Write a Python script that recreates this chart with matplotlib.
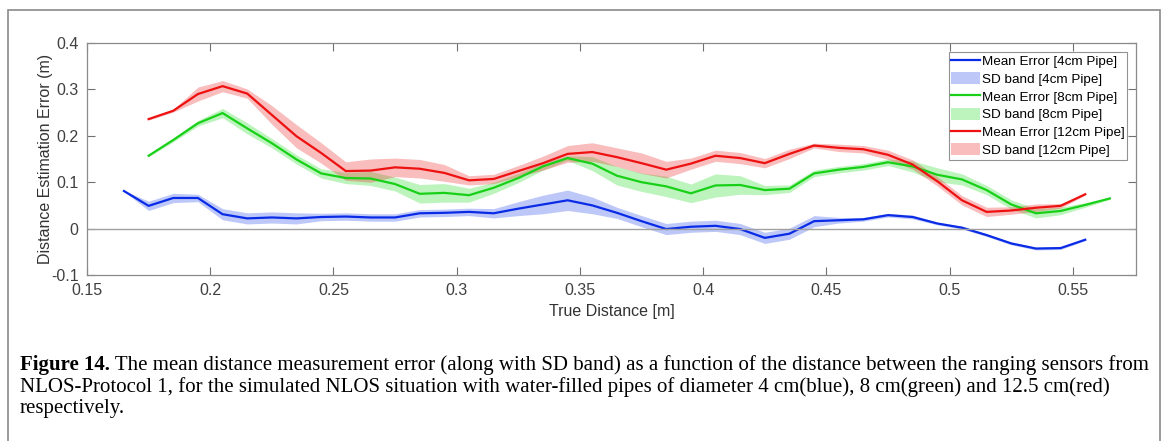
import numpy as np
import matplotlib
matplotlib.use("Agg")
import matplotlib.pyplot as plt
from matplotlib.patches import Rectangle, Patch
from matplotlib.lines import Line2D

plt.rcParams["font.family"] = ["Liberation Sans", "DejaVu Sans"]

# distances (m) for each series
x_4cm = [0.165, 0.175, 0.185, 0.195, 0.205, 0.215, 0.225, 0.235, 0.245, 0.255,
         0.265, 0.275, 0.285, 0.295, 0.305, 0.315, 0.325, 0.335, 0.345, 0.355,
         0.365, 0.375, 0.385, 0.395, 0.405, 0.415, 0.425, 0.435, 0.445, 0.455,
         0.465, 0.475, 0.485, 0.495, 0.505, 0.515, 0.525, 0.535, 0.545, 0.555]
mean_4cm = [0.081, 0.049, 0.066, 0.066, 0.031, 0.022, 0.024, 0.022, 0.025, 0.026,
            0.024, 0.024, 0.033, 0.034, 0.036, 0.033, 0.043, 0.052, 0.061, 0.050,
            0.034, 0.016, -0.001, 0.004, 0.006, -0.001, -0.020, -0.011, 0.016, 0.018,
            0.020, 0.029, 0.025, 0.011, 0.002, -0.014, -0.032, -0.043, -0.042, -0.024]
sd_4cm = [0.001, 0.010, 0.010, 0.008, 0.012, 0.012, 0.012, 0.012, 0.008, 0.008,
          0.008, 0.008, 0.008, 0.008, 0.008, 0.010, 0.015, 0.020, 0.022, 0.018,
          0.012, 0.012, 0.012, 0.012, 0.012, 0.012, 0.012, 0.012, 0.012, 0.006,
          0.004, 0.004, 0.004, 0.003, 0.003, 0.003, 0.003, 0.003, 0.003, 0.002]

x_8cm = [0.175, 0.185, 0.195, 0.205, 0.215, 0.225, 0.235, 0.245, 0.255, 0.265,
         0.275, 0.285, 0.295, 0.305, 0.315, 0.325, 0.335, 0.345, 0.355, 0.365,
         0.375, 0.385, 0.395, 0.405, 0.415, 0.425, 0.435, 0.445, 0.455, 0.465,
         0.475, 0.485, 0.495, 0.505, 0.515, 0.525, 0.535, 0.545, 0.555, 0.565]
mean_8cm = [0.157, 0.191, 0.227, 0.249, 0.216, 0.184, 0.149, 0.119, 0.109, 0.108,
            0.096, 0.075, 0.077, 0.072, 0.088, 0.109, 0.134, 0.152, 0.140, 0.114,
            0.100, 0.091, 0.076, 0.093, 0.094, 0.083, 0.086, 0.119, 0.127, 0.133,
            0.143, 0.134, 0.116, 0.106, 0.083, 0.052, 0.033, 0.038, 0.051, 0.065]
sd_8cm = [0.002, 0.004, 0.006, 0.010, 0.012, 0.010, 0.010, 0.010, 0.012, 0.015,
          0.015, 0.020, 0.020, 0.015, 0.012, 0.010, 0.008, 0.005, 0.015, 0.020,
          0.020, 0.022, 0.020, 0.025, 0.020, 0.010, 0.008, 0.007, 0.007, 0.007,
          0.007, 0.012, 0.015, 0.012, 0.010, 0.010, 0.010, 0.008, 0.005, 0.002]

x_12cm = [0.175, 0.185, 0.195, 0.205, 0.215, 0.225, 0.235, 0.245, 0.255, 0.265,
          0.275, 0.285, 0.295, 0.305, 0.315, 0.325, 0.335, 0.345, 0.355, 0.365,
          0.375, 0.385, 0.395, 0.405, 0.415, 0.425, 0.435, 0.445, 0.455, 0.465,
          0.475, 0.485, 0.495, 0.505, 0.515, 0.525, 0.535, 0.545, 0.555]
mean_12cm = [0.236, 0.254, 0.290, 0.307, 0.291, 0.245, 0.199, 0.163, 0.124, 0.125,
             0.132, 0.129, 0.120, 0.104, 0.107, 0.124, 0.141, 0.161, 0.165, 0.154,
             0.141, 0.127, 0.140, 0.157, 0.152, 0.141, 0.161, 0.179, 0.174, 0.171,
             0.159, 0.138, 0.102, 0.061, 0.036, 0.039, 0.045, 0.049, 0.074]
sd_12cm = [0.002, 0.003, 0.015, 0.012, 0.010, 0.020, 0.025, 0.022, 0.020, 0.025,
           0.020, 0.020, 0.018, 0.010, 0.010, 0.012, 0.015, 0.018, 0.020, 0.020,
           0.022, 0.018, 0.012, 0.012, 0.012, 0.010, 0.010, 0.005, 0.008, 0.008,
           0.010, 0.010, 0.010, 0.010, 0.010, 0.008, 0.008, 0.005, 0.002]

labels = ["4cm Pipe", "8cm Pipe", "12cm Pipe"]
line_colors = ["#0a2be6", "#18d018", "#ee1111"]
band_colors = ["#3355ee", "#33dd33", "#ee3333"]

caption_bold = "Figure 14."
caption_rest = (" The mean distance measurement error (along with SD band) as a function of the distance between the ranging sensors from",
                "NLOS-Protocol 1, for the simulated NLOS situation with water-filled pipes of diameter 4 cm(blue), 8 cm(green) and 12.5 cm(red)",
                "respectively.")

fig = plt.figure(figsize=(11.68, 4.41), dpi=100)
fig.patches.append(Rectangle((8/1168, -0.02), 1152/1168, 1 - 10/441 + 0.02, transform=fig.transFigure,
                             fill=False, edgecolor="#8a8a8a", linewidth=1.2))
ax = fig.add_axes([87/1168, 1 - 275/441, (1136 - 87)/1168, (275 - 43)/441])

series = [(x_4cm, mean_4cm, sd_4cm), (x_8cm, mean_8cm, sd_8cm), (x_12cm, mean_12cm, sd_12cm)]
handles = []
for (xs, m, s), lab, lc, bc in zip(series, labels, line_colors, band_colors):
    xs = np.array(xs); m = np.array(m); s = np.array(s)
    ax.fill_between(xs, m - s, m + s, color=bc, alpha=0.32, linewidth=0)
    ax.plot(xs, m, color=lc, linewidth=1.6)
    handles.append(Line2D([0], [0], color=lc, linewidth=1.6))
    handles.append(Patch(facecolor=bc, alpha=0.32, edgecolor="none"))
leg_labels = []
for lab in labels:
    leg_labels += [f"Mean Error [{lab}]", f"SD band [{lab}]"]

ax.axhline(0, color="#a0a0a0", linewidth=1.0)
ax.set_xlim(0.15, 0.5756)
ax.set_ylim(-0.1, 0.4)
ax.set_xticks([0.15, 0.2, 0.25, 0.3, 0.35, 0.4, 0.45, 0.5, 0.55])
ax.set_xticklabels(["0.15", "0.2", "0.25", "0.3", "0.35", "0.4", "0.45", "0.5", "0.55"])
ax.set_yticks([-0.1, 0, 0.1, 0.2, 0.3, 0.4])
ax.set_yticklabels(["-0.1", "0", "0.1", "0.2", "0.3", "0.4"])
ax.tick_params(direction="in", top=True, right=True, length=6, width=0.8,
               color="#707070", labelcolor="#404040", labelsize=11.5, pad=6)
for sp in ax.spines.values():
    sp.set_color("#8a8a8a")
    sp.set_linewidth(0.9)
ax.set_xlabel("True Distance [m]", fontsize=11.5, color="#333333", va="center")
ax.set_ylabel("Distance Estimation Error (m)", fontsize=11.5, color="#333333", va="center")
ax.xaxis.set_label_coords(0.5, -0.158)
ax.yaxis.set_label_coords(-0.040, 0.5)

leg = ax.legend(handles, leg_labels, loc="upper right", fontsize=9.7, frameon=True,
                fancybox=False, handlelength=2.1, handleheight=1.0, handletextpad=0.15,
                borderpad=0.2, labelspacing=0.3, borderaxespad=0,
                bbox_to_anchor=(0.9914, 0.961))
leg.get_frame().set_edgecolor("#777777")
leg.get_frame().set_linewidth(0.8)

serif = "Liberation Serif"
fs = 15
t = fig.text(20/1168, 1 - 365/441, caption_bold, fontsize=fs, fontweight="bold",
             family=serif, va="center", ha="left")
fig.canvas.draw()
bb = t.get_window_extent()
fig.text(bb.x1/1168, 1 - 365/441, caption_rest[0], fontsize=fs, family=serif, va="center", ha="left")
fig.text(20/1168, 1 - 387/441, caption_rest[1], fontsize=fs, family=serif, va="center", ha="left")
fig.text(20/1168, 1 - 409/441, caption_rest[2], fontsize=fs, family=serif, va="center", ha="left")

fig.savefig("out.png", dpi=100)
